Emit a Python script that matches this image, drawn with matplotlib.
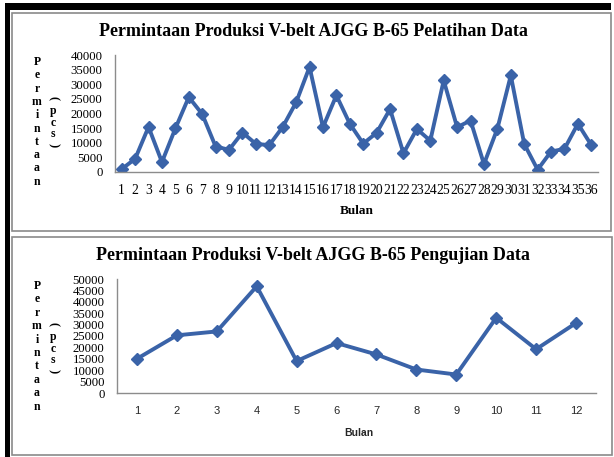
import matplotlib
matplotlib.use("Agg")
import matplotlib.pyplot as plt
from matplotlib.patches import Rectangle

W, H = 614, 457

# ---- data ----
train_months = [str(i) for i in range(1, 37)]
train_values = [1000, 4500, 15400, 3400, 14900, 25600, 19800, 8700, 7600, 13500,
                9600, 9200, 15400, 23800, 35900, 15300, 26200, 16500, 9700, 13400,
                21500, 6400, 14700, 10700, 31300, 15300, 17600, 2700, 14800, 33000,
                9600, 800, 7000, 7900, 16500, 9200]
test_months = [str(i) for i in range(1, 13)]
test_values = [15000, 25300, 27000, 46800, 14000, 21900, 16900, 10300, 8100,
               33000, 19200, 30700]
title_train = "Permintaan Produksi V-belt AJGG B-65 Pelatihan Data"
title_test = "Permintaan Produksi V-belt AJGG B-65 Pengujian Data"
xlabel = "Bulan"
ylabel_word = "Permintaan"
ylabel_unit = "(pcs)"

LINE = "#3a63a8"
SERIF = ["Liberation Serif", "DejaVu Serif"]
SANS = ["Liberation Sans", "DejaVu Sans"]

fig = plt.figure(figsize=(W / 100, H / 100), dpi=100)
fig.patch.set_facecolor("white")


def fx(x):
    return x / W


def fy(y):
    return 1 - y / H


def rect_px(x0, y0, x1, y1, **kw):
    fig.add_artist(Rectangle((fx(x0), fy(y1)), fx(x1) - fx(x0), fy(y0) - fy(y1),
                             transform=fig.transFigure, **kw))


# black frame bars
rect_px(5, 3, 611, 10, facecolor="black", edgecolor="none")
rect_px(5, 3, 10, 457, facecolor="black", edgecolor="none")
# panel borders
rect_px(11.5, 12.5, 611, 231, facecolor="none", edgecolor="#8a8a8a", lw=1.2)
rect_px(11.5, 236.5, 612, 455, facecolor="none", edgecolor="#8a8a8a", lw=1.2)


def make_axes(x0, x1, ytop, ybot):
    ax = fig.add_axes([fx(x0), fy(ybot), fx(x1) - fx(x0), fy(ytop) - fy(ybot)])
    ax.set_facecolor("none")
    for s in ("top", "right"):
        ax.spines[s].set_visible(False)
    for s in ("left", "bottom"):
        ax.spines[s].set_color("#8c8c8c")
        ax.spines[s].set_linewidth(1.0)
    ax.tick_params(axis="both", length=0)
    return ax


def stacked_label(xc, y0, step, text, **kw):
    for i, ch in enumerate(text):
        fig.text(fx(xc), fy(y0 + i * step), ch, ha="center", va="center", **kw)


# ---- top chart ----
ax1 = make_axes(115, 598, 55, 172)
x1 = range(len(train_values))
ax1.plot(x1, train_values, color=LINE, lw=2.8, marker="D", ms=6,
         markerfacecolor=LINE, markeredgecolor=LINE, solid_joinstyle="miter")
ax1.set_xlim(-0.5, len(train_values) - 0.5)
ax1.set_ylim(0, 40000)
ax1.set_yticks(range(0, 40001, 5000))
ax1.set_yticklabels([str(v) for v in range(0, 40001, 5000)],
                    family=SERIF, fontsize=9.2)
ax1.set_xticks(list(x1))
ax1.set_xticklabels(train_months, family=SERIF, fontsize=9.8)
ax1.tick_params(axis="y", pad=9)
ax1.tick_params(axis="x", pad=9)
fig.text(fx(313), fy(31), title_train, ha="center", va="center",
         family=SERIF, fontsize=13, fontweight="bold")
fig.text(fx(357), fy(211), xlabel, ha="center", va="center",
         family=SERIF, fontsize=9.5, fontweight="bold")
stacked_label(37, 62, 13.3, ylabel_word, family=SERIF, fontsize=8.5,
              fontweight="bold")
# (pcs) column
fig.text(fx(53), fy(98), "(", rotation=-90, ha="center", va="center",
         family=SERIF, fontsize=9, fontweight="bold")
stacked_label(53, 111, 11.5, ylabel_unit[1:-1], family=SERIF, fontsize=8.5,
              fontweight="bold")
fig.text(fx(53), fy(145), ")", rotation=-90, ha="center", va="center",
         family=SERIF, fontsize=9, fontweight="bold")

# ---- bottom chart ----
ax2 = make_axes(117, 596, 279, 393)
x2 = range(len(test_values))
ax2.plot(x2, test_values, color=LINE, lw=2.8, marker="D", ms=6,
         markerfacecolor=LINE, markeredgecolor=LINE, solid_joinstyle="miter")
ax2.set_xlim(-0.5, len(test_values) - 0.5)
ax2.set_ylim(0, 50000)
ax2.set_yticks(range(0, 50001, 5000))
ax2.set_yticklabels([str(v) for v in range(0, 50001, 5000)],
                    family=SERIF, fontsize=9.2)
ax2.set_xticks(list(x2))
ax2.set_xticklabels(test_months, family=SANS, fontsize=8, color="#262626")
ax2.tick_params(axis="y", pad=9)
ax2.tick_params(axis="x", pad=9)
fig.text(fx(313), fy(255), title_test, ha="center", va="center",
         family=SERIF, fontsize=13, fontweight="bold")
fig.text(fx(359), fy(433), xlabel, ha="center", va="center",
         family=SANS, fontsize=7.5, fontweight="bold", color="#262626")
stacked_label(37, 286, 13.4, ylabel_word, family=SERIF, fontsize=8.5,
              fontweight="bold")
fig.text(fx(53), fy(324), "(", rotation=-90, ha="center", va="center",
         family=SERIF, fontsize=9, fontweight="bold")
stacked_label(53, 337, 11.5, ylabel_unit[1:-1], family=SERIF, fontsize=8.5,
              fontweight="bold")
fig.text(fx(53), fy(371), ")", rotation=-90, ha="center", va="center",
         family=SERIF, fontsize=9, fontweight="bold")

fig.savefig("out.png", dpi=100, facecolor="white")
